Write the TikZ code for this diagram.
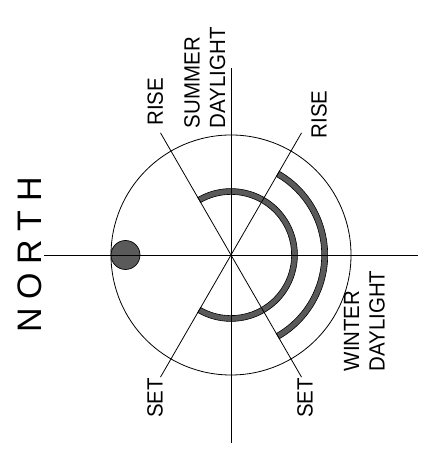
\documentclass[tikz,border=0pt]{standalone}
\usepackage{fontspec}
\setmainfont{Liberation Sans}
\definecolor{band}{RGB}{90,90,90}
\begin{document}
\begin{tikzpicture}[x=1pt,y=1pt,
  thinline/.style={line width=0.8pt},
  lbl/.style={rotate=90, xscale=0.93, inner sep=0pt, anchor=south west, align=left, font=\fontsize{22}{25.5}\selectfont},
  bandarc/.style={fill=band, draw=black, line width=0.6pt}]
\useasboundingbox (0,0) rectangle (429,449);
\coordinate (C) at (231,194);
\coordinate (W) at (44,194);
\coordinate (E) at (418,194);
\coordinate (Nn) at (231,381);
\coordinate (Ss) at (231,6);
\coordinate (d60) at ([shift={(60:141)}]C);
\coordinate (d120) at ([shift={(120:141)}]C);
\coordinate (d240) at ([shift={(240:141)}]C);
\coordinate (d300) at ([shift={(300:141)}]C);
% outer circle
\draw[thinline] (C) circle[radius=120];
% sun
\node[circle, fill=band, draw=black, line width=0.7pt, minimum size=29pt, inner sep=0pt] (sun) at (125.5,194) {};
% summer daylight band
\draw[bandarc] ([shift={(120:66.4)}]C) arc[start angle=120, end angle=-120, radius=66.4]
  -- ([shift={(-120:60.6)}]C) arc[start angle=-120, end angle=120, radius=60.6] -- cycle;
% winter daylight band
\draw[bandarc] ([shift={(60:96.7)}]C) arc[start angle=60, end angle=-60, radius=96.7]
  -- ([shift={(-60:90.7)}]C) arc[start angle=-60, end angle=60, radius=90.7] -- cycle;
% axes
\draw[thinline] (W) -- (E);
\draw[thinline] (Ss) -- (Nn);
% rise/set lines
\draw[thinline] (d120) -- (d300);
\draw[thinline] (d60) -- (d240);
% labels
\node[rotate=90, anchor=base west, inner sep=0pt, font=\fontsize{34}{40}\selectfont] (north) at (41.7,116.5) {N\hspace{8.5pt}O\hspace{8.5pt}R\hspace{8.5pt}T\hspace{8.5pt}H};
\node[lbl] (riseL) at (163.3,323.3) {RISE};
\node[lbl] (summer) at (225.5,320.8) {SUMMER\\DAYLIGHT};
\node[lbl] (riseR) at (327,310.5) {RISE};
\node[lbl] (winter) at (385,77.5) {WINTER\\DAYLIGHT};
\node[lbl] (setL) at (163,31) {SET};
\node[lbl] (setR) at (313,31) {SET};
\end{tikzpicture}
\end{document}
